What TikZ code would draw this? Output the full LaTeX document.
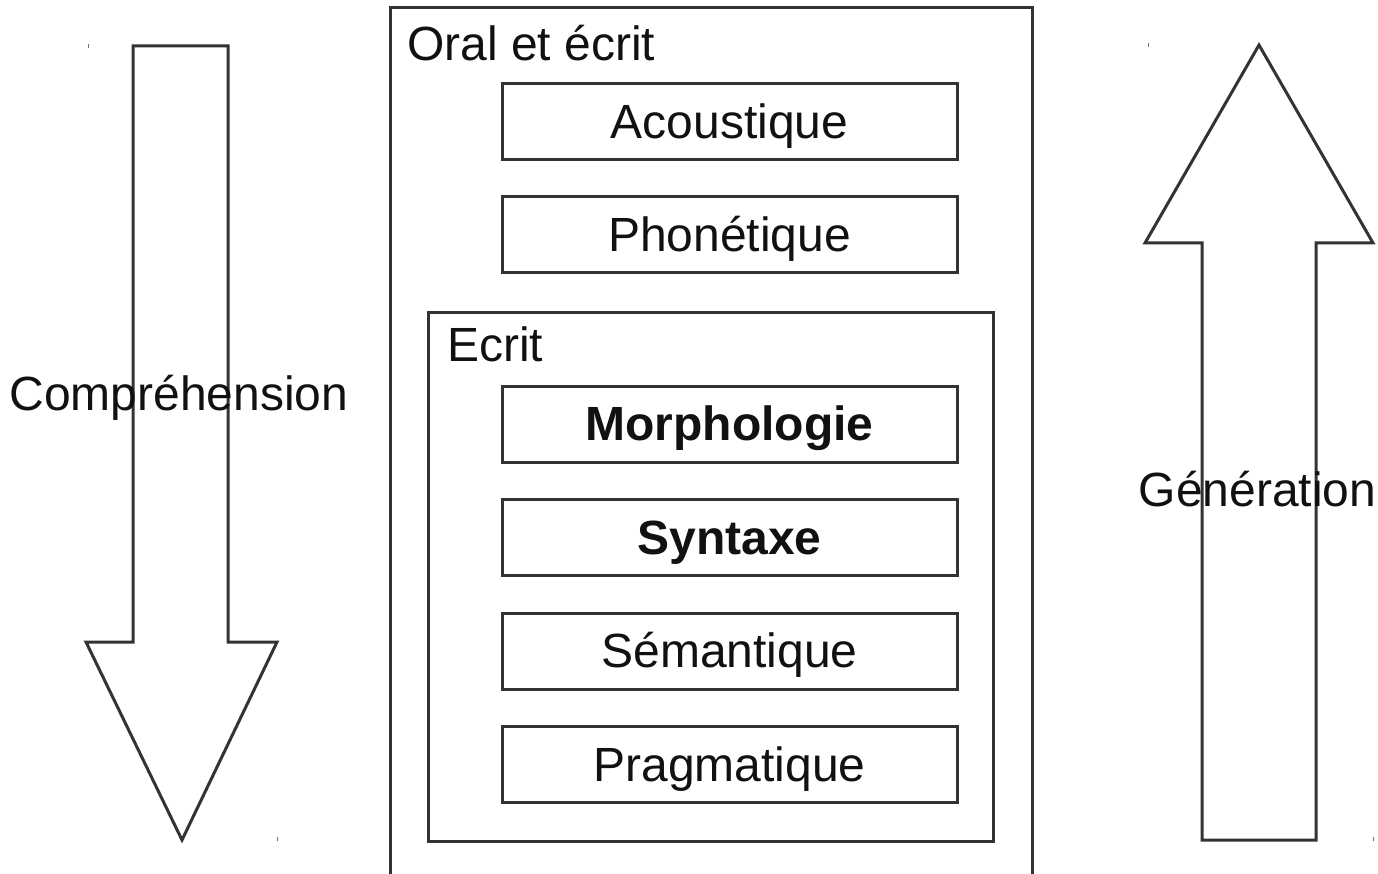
\documentclass[tikz,border=0pt]{standalone}
\usepackage{fontspec}
\setmainfont{Liberation Sans}
\definecolor{ln}{HTML}{333333}
\definecolor{tx}{HTML}{111111}
\tikzset{
  lvl/.style={draw=ln, line width=3pt, minimum width=455pt, minimum height=76pt, inner sep=0pt},
  lbl/.style={text=tx, font=\fontsize{48}{58}\selectfont, inner sep=0pt, anchor=base},
  frame/.style={draw=ln, line width=3pt, line join=miter},
  blk/.style={draw=ln, line width=3pt, line join=miter, fill=white},
  tick/.style={draw=ln!70, line width=0.9pt}
}
\begin{document}
\begin{tikzpicture}[x=1pt,y=-1pt]
\useasboundingbox (0,0) rectangle (1378,874);
\clip (0,0) rectangle (1378,874);
\fill[white] (0,0) rectangle (1378,874);
% outer frame (open at bottom)
\coordinate (obl) at (390,890);
\coordinate (obr) at (1032,890);
\draw[frame] (obl) |- (1032,8) -- (obr);
\node[lbl, anchor=base west] (oral) at (407,61) {Oral et écrit};
% Ecrit frame
\node[draw=ln, line width=3pt, minimum width=565pt, minimum height=529pt, inner sep=0pt, anchor=north west] (ecrit) at (427,311) {};
\node[lbl, anchor=base west] (ecritl) at (447,361) {Ecrit};
% level boxes
\node[lvl] (acou) at (729.5,122) {};
\node[lbl] at ([yshift=-16.5pt]acou.center) {Acoustique};
\node[lvl] (phon) at (729.5,235) {};
\node[lbl] at ([yshift=-16.5pt]phon.center) {Phonétique};
\node[lvl] (morph) at (729.5,424) {};
\node[lbl, font=\fontsize{48}{58}\selectfont\bfseries] at ([yshift=-16.5pt]morph.center) {Morphologie};
\node[lvl] (synt) at (729.5,537.5) {};
\node[lbl, font=\fontsize{48}{58}\selectfont\bfseries] at ([yshift=-16.5pt]synt.center) {Syntaxe};
\node[lvl] (sem) at (729.5,651) {};
\node[lbl] at ([yshift=-16.5pt]sem.center) {Sémantique};
\node[lvl] (prag) at (729.5,764.5) {};
\node[lbl] at ([yshift=-16.5pt]prag.center) {Pragmatique};
% left block arrow (down)
\draw[blk] (133,46) -- (228,46) -- (228,642) -- (277,642) -- (182,840) -- (86,642) -- (133,642) -- cycle;
\node[lbl] (comp) at (179,410) {Compréhension};
% right block arrow (up)
\draw[blk] (1202,840) -- (1202,243) -- (1145,243) -- (1259,45) -- (1373,243) -- (1316,243) -- (1316,840) -- cycle;
\node[lbl] (gen) at (1257.5,506) {Génération};
% corner ticks
\draw[tick] (88,44) -- (88,48);
\draw[tick] (277,837) -- (277,841);
\draw[tick] (1148,43) -- (1148,47);
\draw[tick] (1373,837) -- (1373,841);
\end{tikzpicture}
\end{document}
